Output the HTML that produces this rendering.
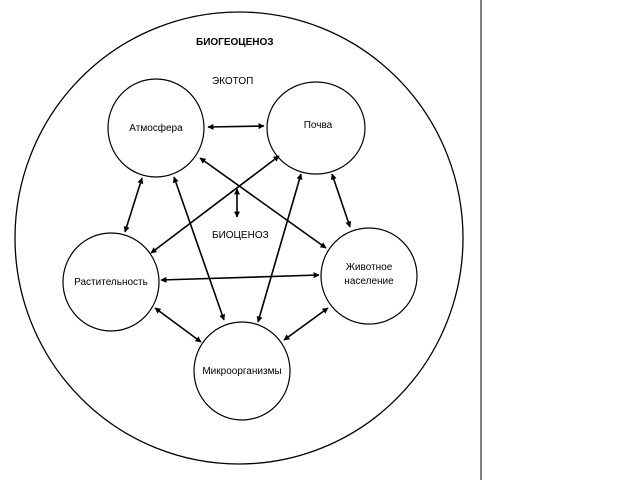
<!DOCTYPE html>
<html><head><meta charset="utf-8"><style>
html,body{margin:0;padding:0;background:#fff;width:640px;height:480px;overflow:hidden}
text{font-family:"Liberation Sans",sans-serif;font-size:10px;fill:#000}
</style></head><body>
<svg width="640" height="480" viewBox="0 0 640 480" xmlns="http://www.w3.org/2000/svg">
<defs>
<marker id="a" viewBox="0 0 10 10" refX="9" refY="5" markerWidth="7" markerHeight="6" orient="auto-start-reverse" markerUnits="userSpaceOnUse">
<path d="M0,0 L10,5 L0,10 z" fill="#000"/></marker>
</defs>
<line x1="481" y1="0" x2="481" y2="480" stroke="#000" stroke-width="1"/>
<ellipse cx="239" cy="238" rx="224" ry="226" fill="none" stroke="#000" stroke-width="1.3"/>
<g fill="none" stroke="#000" stroke-width="1.2">
<ellipse cx="156" cy="128" rx="48" ry="49"/>
<ellipse cx="316" cy="128" rx="49" ry="46"/>
<ellipse cx="111" cy="282" rx="48" ry="49"/>
<ellipse cx="369" cy="276" rx="48" ry="48"/>
<ellipse cx="242" cy="371" rx="48" ry="49"/>
</g>
<g stroke="#000" stroke-width="1.6" marker-start="url(#a)" marker-end="url(#a)">
<line x1="208" y1="127" x2="264" y2="126"/>
<line x1="142" y1="178" x2="125" y2="232"/>
<line x1="332" y1="174" x2="350" y2="227"/>
<line x1="200" y1="158" x2="326" y2="248"/>
<line x1="279" y1="156" x2="151" y2="253"/>
<line x1="174" y1="177" x2="224" y2="320"/>
<line x1="301" y1="174" x2="258" y2="322"/>
<line x1="161" y1="280" x2="319" y2="275"/>
<line x1="155" y1="308" x2="201" y2="342"/>
<line x1="328" y1="308" x2="284" y2="340"/>
<line x1="237" y1="189" x2="237" y2="217"/>
</g>
<text x="196" y="45" font-weight="bold">БИОГЕОЦЕНОЗ</text>
<text x="212" y="84">ЭКОТОП</text>
<text x="212" y="238">БИОЦЕНОЗ</text>
<text x="156" y="131" text-anchor="middle">Атмосфера</text>
<text x="318" y="128" text-anchor="middle">Почва</text>
<text x="111" y="285" text-anchor="middle">Растительность</text>
<text x="369" y="270" text-anchor="middle">Животное</text>
<text x="369" y="284" text-anchor="middle">население</text>
<text x="242" y="374" text-anchor="middle">Микроорганизмы</text>
</svg>
</body></html>
